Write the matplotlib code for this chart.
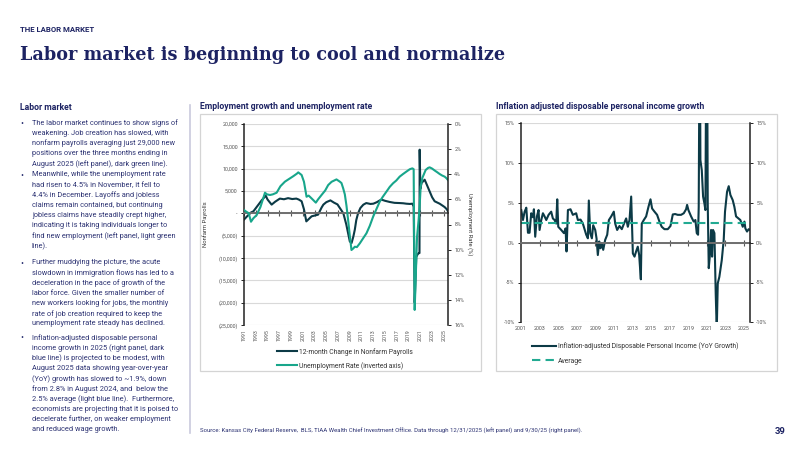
import matplotlib
matplotlib.use("Agg")
import matplotlib.pyplot as plt
from matplotlib.patches import Rectangle
from matplotlib.lines import Line2D
from matplotlib.ticker import FuncFormatter

plt.rcParams['font.family'] = ['Roboto', 'DejaVu Sans']

NAVY = '#1d2363'
TEXT = '#2d3373'
DARK = '#0c3a46'
TEAL = '#18a68b'
GRID = '#d9d9d9'
TICK = '#555555'

# ---------------- left panel data ----------------
pay_years = [1991.0, 1991.5, 1992.2, 1992.6, 1993.2, 1994.0, 1994.7, 1995.0, 1995.7, 1996.3,
             1997.1, 1997.8, 1998.5, 1999.2, 1999.9, 2000.3, 2000.8, 2001.2, 2001.6, 2002.0,
             2002.5, 2003.0, 2003.6, 2004.2, 2004.5, 2005.0, 2005.7, 2006.3, 2006.9, 2007.3,
             2007.9, 2008.4, 2008.7, 2009.0, 2009.3, 2009.6, 2009.85, 2010.1, 2010.4, 2010.8,
             2011.3, 2011.8, 2012.5, 2013.0, 2013.6, 2014.1, 2014.4, 2015.0, 2015.8, 2016.6,
             2017.5, 2018.1, 2018.6, 2019.2, 2019.64, 2019.86, 2020.03, 2020.3, 2020.5, 2020.71,
             2020.85, 2020.88, 2021.0, 2021.2, 2021.73, 2022.1, 2022.58, 2023.0, 2023.43, 2023.9,
             2024.28, 2024.8, 2025.13, 2025.5, 2025.7]
payrolls = [-1400, -700, 200, 450, 1500, 2900, 3950, 3100, 1950, 2600,
            3300, 3150, 3400, 3200, 3300, 3100, 2700, 900, -1800, -1300,
            -670, -500, -300, 1300, 1950, 2500, 2900, 2400, 2000, 1200,
            0, -2500, -4400, -6300, -6640, -5200, -3650, -1500, 0, 1200,
            1940, 2300, 2100, 2160, 2500, 2900, 3060, 2800, 2540, 2350,
            2300, 2250, 2160, 2100, 2160, 1500, -20000, -9800, -9250, -8900,
            -8900, 14250, 5500, 6800, 7530, 6400, 4900, 3600, 2700, 2400,
            2160, 1700, 1400, 900, 450]

unemp_years = [1991.0, 1991.45, 1991.8, 1992.19, 1992.6, 1993.15, 1993.8, 1994.57, 1994.9, 1995.42,
               1995.9, 1996.55, 1997.2, 1997.96, 1998.81, 1999.4, 2000.0, 2000.23, 2000.8, 2001.2,
               2001.64, 2002.0, 2002.49, 2003.22, 2003.6, 2004.19, 2004.8, 2005.32, 2005.9, 2006.73,
               2007.3, 2007.58, 2007.87, 2008.15, 2008.43, 2008.71, 2009.0, 2009.28, 2009.6, 2009.85,
               2010.2, 2010.7, 2011.26, 2011.83, 2012.4, 2012.96, 2013.5, 2014.09, 2014.6, 2015.22,
               2015.8, 2016.35, 2016.9, 2017.48, 2018.0, 2018.62, 2019.2, 2019.64, 2019.86, 2020.03,
               2020.31, 2020.43, 2020.71, 2020.88, 2021.05, 2021.33, 2021.9, 2022.3, 2022.58, 2023.0,
               2023.43, 2023.9, 2024.28, 2024.7, 2025.13, 2025.4, 2025.7]
unemp_rate = [6.85, 7.0, 7.1, 7.78, 7.5, 7.25, 6.6, 5.47, 5.6, 5.65,
              5.6, 5.47, 4.95, 4.59, 4.33, 4.15, 3.95, 3.85, 4.06, 4.6,
              5.79, 5.7, 5.92, 6.26, 6.0, 5.65, 5.3, 4.86, 4.6, 4.41,
              4.59, 4.7, 5.12, 5.6, 6.5, 7.64, 8.9, 10.03, 9.9, 9.77,
              9.8, 9.5, 9.1, 8.7, 8.1, 7.38, 6.8, 6.18, 5.8, 5.39,
              5.0, 4.72, 4.5, 4.19, 4.0, 3.79, 3.6, 3.53, 3.6, 14.8,
              10.8, 9.0, 7.6, 6.5, 5.0, 4.3, 3.66, 3.5, 3.45, 3.55,
              3.7, 3.85, 3.98, 4.1, 4.19, 4.3, 4.46]

left_tick_years = list(range(1991, 2026, 2))

# ---------------- right panel data ----------------
dpi_years = [2001.03, 2001.21, 2001.39, 2001.57, 2001.75, 2001.92, 2002.10, 2002.28, 2002.39, 2002.53,
             2002.71, 2002.89, 2003.0, 2003.18, 2003.36, 2003.54, 2003.72, 2003.97, 2004.25, 2004.43,
             2004.61, 2004.79, 2004.90, 2005.01, 2005.33, 2005.62, 2005.80, 2005.90, 2006.05, 2006.33,
             2006.58, 2006.94, 2007.12, 2007.41, 2007.66, 2008.02, 2008.20, 2008.30, 2008.45, 2008.63,
             2008.77, 2008.99, 2009.13, 2009.27, 2009.42, 2009.56, 2009.70, 2009.85, 2010.06, 2010.28,
             2010.46, 2010.71, 2010.99, 2011.14, 2011.35, 2011.60, 2011.85, 2012.07, 2012.32, 2012.50,
             2012.68, 2012.86, 2013.04, 2013.22, 2013.39, 2013.57, 2013.72, 2013.90, 2014.00, 2014.22,
             2014.47, 2014.72, 2014.94, 2015.11, 2015.37, 2015.65, 2015.90, 2016.15, 2016.44, 2016.80,
             2017.09, 2017.34, 2017.59, 2017.87, 2018.23, 2018.52, 2018.77, 2018.88, 2019.02, 2019.31,
             2019.59, 2019.77, 2019.92, 2020.06, 2020.13, 2020.24, 2020.31, 2020.46, 2020.60, 2020.74,
             2020.85, 2020.96, 2021.03, 2021.10, 2021.21, 2021.35, 2021.46, 2021.57, 2021.67, 2021.82,
             2021.96, 2022.07, 2022.18, 2022.35, 2022.61, 2022.82, 2022.96, 2023.18, 2023.36, 2023.54,
             2023.79, 2023.97, 2024.15, 2024.40, 2024.61, 2024.87, 2025.05, 2025.15, 2025.33, 2025.51,
             2025.65]
dpi_growth = [4.1, 2.85, 3.9, 4.4, 1.25, 1.25, 3.7, 3.2, 4.2, 0.75,
              3.3, 4.1, 1.6, 2.85, 3.7, 3.3, 2.85, 3.5, 3.9, 3.05,
              2.85, 2.4, 5.45, 2.0, 1.6, 1.2, 1.8, -1.1, 4.1, 4.2,
              3.5, 3.7, 2.85, 2.9, 2.4, 1.0, 0.55, 5.3, 1.2, 0.55,
              2.2, 1.6, 0.55, -1.55, 0.15, -0.7, -0.1, -0.9, 0.35, 1.0,
              2.85, 3.3, 3.9, 2.4, 1.6, 2.1, 1.7, 2.35, 3.05, 2.0,
              2.85, 5.8, -1.35, -1.75, -1.1, -0.5, -1.55, -4.6, 2.4, 2.85,
              3.3, 4.5, 5.45, 4.3, 3.9, 3.5, 2.65, 2.0, 1.7, 1.7,
              2.1, 3.55, 3.6, 3.5, 3.5, 3.7, 4.2, 4.75, 4.1, 3.3,
              2.65, 2.85, 1.2, 1.0, 4.5, 31.0, 10.4, 9.1, 5.8, 4.95,
              4.1, 29.0, 27.0, 4.95, -3.2, -1.35, 1.6, -1.75, 1.6, 1.2,
              -6.4, -11.0, -5.1, -4.3, -2.2, 0.35, 3.9, 6.4, 7.1, 6.0,
              5.35, 4.5, 3.3, 3.05, 2.85, 2.0, 2.65, 1.8, 1.4, 1.7,
              1.6]
dpi_average = 2.45
right_tick_years = list(range(2001, 2026, 2))

# ---------------- figure ----------------
fig = plt.figure(figsize=(8, 4.5), dpi=100)
fig.patch.set_facecolor('white')


def fx(px):
    return px / 800


def fy(py):
    return 1 - py / 450


def thousands(v, pos):
    if v > 0:
        return f'{v:,.0f}'
    if v < 0:
        return f'({-v:,.0f})'
    return '-'


# header
fig.text(fx(20), fy(30), 'THE LABOR MARKET', fontsize=5.6, fontweight='bold', color=NAVY, va='center')
fig.text(fx(20), fy(55), 'Labor market is beginning to cool and normalize', fontsize=12.7,
         fontweight='bold', family='DejaVu Serif', color=NAVY, va='center')

# left text column
fig.text(fx(20), fy(107.5), 'Labor market', fontsize=6.2, fontweight='bold', color=NAVY, va='center')
bullets = [
    (123, ["The labor market continues to show signs of",
           "weakening. Job creation has slowed, with",
           "nonfarm payrolls averaging just 29,000 new",
           "positions over the three months ending in",
           "August 2025 (left panel), dark green line)."]),
    (175, ["Meanwhile, while the unemployment rate",
           "had risen to 4.5% in November, it fell to",
           "4.4% in December. Layoffs and jobless",
           "claims remain contained, but continuing",
           "jobless claims have steadily crept higher,",
           "indicating it is taking individuals longer to",
           "find new employment (left panel, light green",
           "line)."]),
    (263, ["Further muddying the picture, the acute",
           "slowdown in immigration flows has led to a",
           "deceleration in the pace of growth of the",
           "labor force. Given the smaller number of",
           "new workers looking for jobs, the monthly",
           "rate of job creation required to keep the",
           "unemployment rate steady has declined."]),
    (338, ["Inflation-adjusted disposable personal",
           "income growth in 2025 (right panel, dark",
           "blue line) is projected to be modest, with",
           "August 2025 data showing year-over-year",
           "(YoY) growth has slowed to ~1.9%, down",
           "from 2.8% in August 2024, and  below the",
           "2.5% average (light blue line).  Furthermore,",
           "economists are projecting that it is poised to",
           "decelerate further, on weaker employment",
           "and reduced wage growth."]),
]
for y0, lines in bullets:
    fig.text(fx(20.5), fy(y0), '•', fontsize=6.5, color=TEXT, va='center')
    for i, line in enumerate(lines):
        fig.text(fx(32), fy(y0 + i * 10.15), line, fontsize=5.35, color=TEXT, va='center')

fig.add_artist(Line2D([fx(190), fx(190)], [fy(105), fy(433)], color='#c9cadd', lw=1.2))

# chart titles and boxes
fig.text(fx(200), fy(106.5), 'Employment growth and unemployment rate', fontsize=6.2,
         fontweight='bold', color=NAVY, va='center')
fig.text(fx(496), fy(106.5), 'Inflation adjusted disposable personal income growth', fontsize=6.2,
         fontweight='bold', color=NAVY, va='center')
for x0, x1 in [(200, 481), (496, 777)]:
    fig.add_artist(Rectangle((fx(x0), fy(371)), (x1 - x0) / 800, (371 - 114) / 450,
                             transform=fig.transFigure, fill=False, ec='#d4d4d4', lw=0.9))

# ---------------- left chart ----------------
ax1 = fig.add_axes([fx(244), fy(325), 204 / 800, 201 / 450])
pay_line, = ax1.plot(pay_years, payrolls, color=DARK, lw=1.5, label='12-month Change in Nonfarm Payrolls')
ax1.set_xlim(1991, 2025.7)
ax1.set_ylim(-25000, 20000)
ax1.set_yticks(range(-25000, 20001, 5000))
ax1.yaxis.set_major_formatter(FuncFormatter(thousands))
ax1.grid(axis='y', color=GRID, lw=0.8)
ax1.set_axisbelow(True)
for s in ['top', 'right']:
    ax1.spines[s].set_visible(False)
ax1.spines['left'].set_color('#222222')
ax1.spines['left'].set_linewidth(1.1)
ax1.spines['bottom'].set_position(('data', 0))
ax1.spines['bottom'].set_color('#6e6e6e')
ax1.spines['bottom'].set_linewidth(1.4)
ax1.set_xticks(left_tick_years)
ax1.tick_params(axis='x', direction='inout', length=4, width=0.8, color='#555555', labelbottom=False)
ax1.tick_params(axis='y', direction='out', length=2.5, width=0.6, labelsize=3.9, labelcolor=TICK, pad=2)
ax1.set_ylabel('Nonfarm Payrolls', fontsize=4.2, color='#333333')
ax1.yaxis.set_label_coords(-0.176, 0.5)

lab1 = ax1.secondary_xaxis('bottom')
lab1.set_ticks(left_tick_years, labels=[str(y) for y in left_tick_years])
lab1.tick_params(axis='x', length=0, labelsize=3.8, labelcolor=TICK, labelrotation=90, pad=3)
lab1.spines['bottom'].set_visible(False)

ax1r = ax1.twinx()
un_line, = ax1r.plot(unemp_years, unemp_rate, color=TEAL, lw=1.5, label='Unemployment Rate (inverted axis)')
ax1r.set_ylim(16, 0)
ax1r.set_yticks(range(0, 17, 2))
ax1r.yaxis.set_major_formatter(FuncFormatter(lambda v, p: f'{v:.0f}%'))
for s in ['top', 'left', 'bottom']:
    ax1r.spines[s].set_visible(False)
ax1r.spines['right'].set_color('#222222')
ax1r.spines['right'].set_linewidth(1.1)
ax1r.tick_params(axis='y', direction='out', length=2.5, width=0.6, labelsize=3.9, labelcolor=TICK, pad=2)
ax1r.set_ylabel('Unemployment Rate (%)', rotation=270, fontsize=4.2, color='#333333', va='center')
ax1r.yaxis.set_label_coords(1.108, 0.5)

fig.legend(handles=[pay_line, un_line], loc='upper left', bbox_to_anchor=(fx(277), fy(348)),
           frameon=False, fontsize=4.9, handlelength=3.0, handletextpad=0.25, labelspacing=0.85,
           borderpad=0, borderaxespad=0, labelcolor='#333333')

# ---------------- right chart ----------------
ax2 = fig.add_axes([fx(521), fy(322.3), 229 / 800, 199 / 450])
dpi_line, = ax2.plot(dpi_years, dpi_growth, color=DARK, lw=1.5,
                     label='Inflation-adjusted Disposable Personal Income (YoY Growth)')
avg_line = ax2.axhline(dpi_average, color='#22aa92', lw=1.5, ls=(0, (4, 2.5)), label='Average')
ax2.set_xlim(2001, 2025.65)
ax2.set_ylim(-10, 15)
ax2.set_yticks(range(-10, 16, 5))
ax2.yaxis.set_major_formatter(FuncFormatter(lambda v, p: f'{v:.0f}%'))
ax2.grid(axis='y', color=GRID, lw=0.8)
ax2.set_axisbelow(True)
for s in ['top', 'right']:
    ax2.spines[s].set_visible(False)
ax2.spines['left'].set_color('#222222')
ax2.spines['left'].set_linewidth(1.1)
ax2.spines['bottom'].set_position(('data', 0))
ax2.spines['bottom'].set_color('#6e6e6e')
ax2.spines['bottom'].set_linewidth(1.4)
ax2.set_xticks(right_tick_years[1:])
ax2.tick_params(axis='x', direction='inout', length=4, width=0.8, color='#555555', labelbottom=False)
ax2.tick_params(axis='y', direction='out', length=2.5, width=0.6, labelsize=3.9, labelcolor=TICK, pad=2)

lab2 = ax2.secondary_xaxis('bottom')
lab2.set_ticks(right_tick_years, labels=[str(y) for y in right_tick_years])
lab2.tick_params(axis='x', length=0, labelsize=3.9, labelcolor=TICK, pad=3)
lab2.spines['bottom'].set_visible(False)

ax2r = ax2.twinx()
ax2r.set_ylim(-10, 15)
ax2r.set_yticks(range(-10, 16, 5))
ax2r.yaxis.set_major_formatter(FuncFormatter(lambda v, p: f'{v:.0f}%'))
for s in ['top', 'left', 'bottom']:
    ax2r.spines[s].set_visible(False)
ax2r.spines['right'].set_color('#222222')
ax2r.spines['right'].set_linewidth(1.1)
ax2r.tick_params(axis='y', direction='out', length=2.5, width=0.6, labelsize=3.9, labelcolor=TICK, pad=2)

fig.legend(handles=[dpi_line, avg_line], loc='upper left', bbox_to_anchor=(fx(532), fy(342)),
           frameon=False, fontsize=4.9, handlelength=3.5, handletextpad=0.3, labelspacing=1.15,
           borderpad=0, borderaxespad=0, labelcolor='#333333')

# footer
fig.text(fx(200), fy(431), 'Source: Kansas City Federal Reserve,  BLS, TIAA Wealth Chief Investment Office. '
         'Data through 12/31/2025 (left panel) and 9/30/25 (right panel).',
         fontsize=4.35, color=TEXT, va='center')
fig.text(fx(786), fy(431), '39', fontsize=6.8, fontweight='bold', color=NAVY, va='center', ha='right')

fig.savefig('out.png', dpi=100)
